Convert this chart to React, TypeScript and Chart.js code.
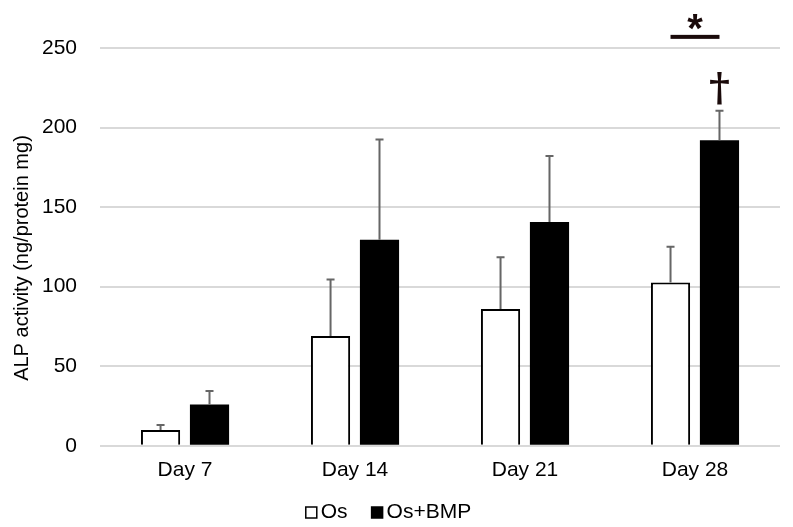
import React, { useEffect, useRef } from "react";
import { Chart, registerables } from "chart.js";

Chart.register(...registerables);

const categories = ["Day 7", "Day 14", "Day 21", "Day 28"];
const osValues = [10, 69, 86, 102.6];
const osErrors = [3, 35.5, 32.5, 22.5];
const bmpValues = [26, 129.5, 140.6, 192];
const bmpErrors = [8.5, 63, 41.5, 18.5];
const yTicks = [0, 50, 100, 150, 200, 250];
// significance marks: category index, value level
const starMark = { category: 3, lineValue: 257, textValue: 266, text: "*" };
const daggerMark = { category: 3, dataset: 1, value: 225, text: "†" };

const FONT = "'Liberation Sans', Arial, Helvetica, sans-serif";

const errorBarPlugin = {
  id: "errorBars",
  afterDatasetsDraw(chart: any) {
    const ctx = chart.ctx;
    const y = chart.scales.y;
    chart.data.datasets.forEach((ds: any, i: number) => {
      const meta = chart.getDatasetMeta(i);
      meta.data.forEach((el: any, j: number) => {
        const top = y.getPixelForValue(ds.data[j] + ds.errors[j]);
        ctx.save();
        ctx.strokeStyle = "#666666";
        ctx.lineWidth = 2;
        ctx.beginPath();
        ctx.moveTo(el.x, el.y);
        ctx.lineTo(el.x, top);
        ctx.moveTo(el.x - 4, top);
        ctx.lineTo(el.x + 4, top);
        ctx.stroke();
        ctx.restore();
      });
    });
  },
};

const sigPlugin = {
  id: "sigMarks",
  afterDraw(chart: any) {
    const ctx = chart.ctx;
    const y = chart.scales.y;
    const m0 = chart.getDatasetMeta(0).data[starMark.category];
    const m1 = chart.getDatasetMeta(1).data[starMark.category];
    ctx.save();
    ctx.fillStyle = "#1a0a0a";
    const ly = y.getPixelForValue(starMark.lineValue);
    ctx.fillRect(m0.x, ly - 2, m1.x - m0.x, 4);
    ctx.font = `bold 40px ${FONT}`;
    ctx.textAlign = "center";
    ctx.textBaseline = "middle";
    ctx.fillText(starMark.text, (m0.x + m1.x) / 2, y.getPixelForValue(starMark.textValue) + 8);
    const d = chart.getDatasetMeta(daggerMark.dataset).data[daggerMark.category];
    ctx.font = `bold 40px 'DejaVu Serif', serif`;
    ctx.fillText(daggerMark.text, d.x, y.getPixelForValue(daggerMark.value) + 3);
    ctx.restore();
  },
};

// legend drawn as "□Os ■Os+BMP" with tight box-to-text spacing
const legendPlugin = {
  id: "tightLegend",
  afterDraw(chart: any) {
    const ctx = chart.ctx;
    const box = 11;
    const gap = 4;
    const itemGap = 24;
    ctx.save();
    ctx.font = `21px ${FONT}`;
    const items = chart.data.datasets.map((ds: any) => ({
      label: ds.label,
      fill: ds.backgroundColor,
      w: ctx.measureText(ds.label).width,
    }));
    const total =
      items.reduce((s: number, it: any) => s + box + gap + it.w, 0) + itemGap * (items.length - 1);
    let x = chart.width / 2 - 8 - total / 2;
    const base = chart.height - 9;
    ctx.textBaseline = "alphabetic";
    ctx.textAlign = "left";
    items.forEach((it: any) => {
      ctx.fillStyle = it.fill;
      ctx.fillRect(x, base - box, box, box);
      ctx.strokeStyle = "#000";
      ctx.lineWidth = 1.5;
      ctx.strokeRect(x, base - box, box, box);
      ctx.fillStyle = "#000";
      ctx.fillText(it.label, x + box + gap, base);
      x += box + gap + it.w + itemGap;
    });
    ctx.restore();
  },
};

export default function App() {
  const ref = useRef<HTMLCanvasElement>(null);
  useEffect(() => {
    const chart = new Chart(ref.current!, {
      type: "bar",
      data: {
        labels: categories,
        datasets: [
          {
            label: "Os",
            data: osValues,
            errors: osErrors,
            backgroundColor: "#ffffff",
            borderColor: "#000000",
            borderWidth: 2,
            categoryPercentage: 0.576,
            barPercentage: 0.8,
          } as any,
          {
            label: "Os+BMP",
            data: bmpValues,
            errors: bmpErrors,
            backgroundColor: "#000000",
            borderColor: "#000000",
            borderWidth: 0,
            categoryPercentage: 0.576,
            barPercentage: 0.8,
          } as any,
        ],
      },
      options: {
        animation: false,
        responsive: true,
        maintainAspectRatio: false,
        layout: { padding: { top: 48, right: 13, left: 10, bottom: 32 } },
        plugins: {
          tooltip: { enabled: false },
          legend: { display: false },
        },
        scales: {
          x: {
            grid: { display: false, drawTicks: false },
            border: { display: false },
            ticks: { color: "#000", font: { family: FONT, size: 21 }, padding: 12 },
          },
          y: {
            min: 0,
            max: 250,
            afterBuildTicks: (s: any) => {
              s.ticks = yTicks.map((v) => ({ value: v }));
            },
            grid: { color: "#d9d9d9", lineWidth: 2, drawTicks: false },
            border: { display: false },
            ticks: { color: "#000", font: { family: FONT, size: 21 }, padding: 23 },
            title: {
              display: true,
              text: "ALP activity (ng/protein mg)    ",
              color: "#000",
              font: { family: FONT, size: 20 },
              padding: { top: 0, bottom: -15 },
            },
          },
        },
      },
      plugins: [errorBarPlugin, sigPlugin, legendPlugin],
    });
    return () => chart.destroy();
  }, []);
  return (
    <div style={{ position: "fixed", left: 0, top: 0, width: 793, height: 527, background: "#fff" }}>
      <canvas ref={ref} />
    </div>
  );
}
